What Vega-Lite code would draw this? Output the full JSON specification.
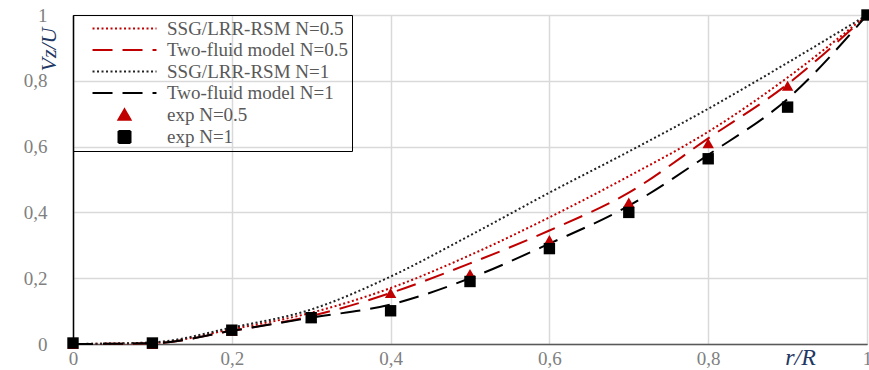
{
  "$schema": "https://vega.github.io/schema/vega-lite/v6.json",
  "width": 794,
  "height": 329,
  "autosize": {"type": "none"},
  "padding": {"left": 73, "top": 15, "right": 2, "bottom": 26},
  "background": "white",
  "config": {
    "view": {"stroke": "#000000", "strokeWidth": 1},
    "font": "Liberation Serif",
    "legend": {
      "orient": "none", "legendX": 0, "legendY": 0,
      "strokeColor": "#000000", "padding": 4,
      "labelFont": "Liberation Serif", "labelFontSize": 19, "labelColor": "#595959",
      "symbolSize": 144, "symbolStrokeWidth": 2, "symbolOffset": 38,
      "labelOffset": 33, "rowPadding": 1.5, "labelLimit": 400,
      "symbolFillColor": "#000000", "symbolOpacity": 1
    }
  },
  "data": {
    "values": [
      {"series": "SSG/LRR-RSM N=0.5", "r": 0.0, "v": 0.0},
      {"series": "SSG/LRR-RSM N=0.5", "r": 0.1, "v": 0.003},
      {"series": "SSG/LRR-RSM N=0.5", "r": 0.2, "v": 0.045},
      {"series": "SSG/LRR-RSM N=0.5", "r": 0.3, "v": 0.095},
      {"series": "SSG/LRR-RSM N=0.5", "r": 0.4, "v": 0.17},
      {"series": "SSG/LRR-RSM N=0.5", "r": 0.5, "v": 0.27},
      {"series": "SSG/LRR-RSM N=0.5", "r": 0.6, "v": 0.385},
      {"series": "SSG/LRR-RSM N=0.5", "r": 0.7, "v": 0.51},
      {"series": "SSG/LRR-RSM N=0.5", "r": 0.8, "v": 0.645},
      {"series": "SSG/LRR-RSM N=0.5", "r": 0.9, "v": 0.81},
      {"series": "SSG/LRR-RSM N=0.5", "r": 1.0, "v": 1.0},
      {"series": "Two-fluid model N=0.5", "r": 0.0, "v": 0.0},
      {"series": "Two-fluid model N=0.5", "r": 0.1, "v": 0.002},
      {"series": "Two-fluid model N=0.5", "r": 0.2, "v": 0.04},
      {"series": "Two-fluid model N=0.5", "r": 0.3, "v": 0.085},
      {"series": "Two-fluid model N=0.5", "r": 0.4, "v": 0.155},
      {"series": "Two-fluid model N=0.5", "r": 0.5, "v": 0.245},
      {"series": "Two-fluid model N=0.5", "r": 0.6, "v": 0.345},
      {"series": "Two-fluid model N=0.5", "r": 0.7, "v": 0.46},
      {"series": "Two-fluid model N=0.5", "r": 0.8, "v": 0.625},
      {"series": "Two-fluid model N=0.5", "r": 0.9, "v": 0.79},
      {"series": "Two-fluid model N=0.5", "r": 1.0, "v": 1.0},
      {"series": "SSG/LRR-RSM N=1", "r": 0.0, "v": 0.0},
      {"series": "SSG/LRR-RSM N=1", "r": 0.1, "v": 0.005},
      {"series": "SSG/LRR-RSM N=1", "r": 0.2, "v": 0.05},
      {"series": "SSG/LRR-RSM N=1", "r": 0.3, "v": 0.105},
      {"series": "SSG/LRR-RSM N=1", "r": 0.4, "v": 0.205},
      {"series": "SSG/LRR-RSM N=1", "r": 0.5, "v": 0.33},
      {"series": "SSG/LRR-RSM N=1", "r": 0.6, "v": 0.46},
      {"series": "SSG/LRR-RSM N=1", "r": 0.7, "v": 0.585},
      {"series": "SSG/LRR-RSM N=1", "r": 0.8, "v": 0.715},
      {"series": "SSG/LRR-RSM N=1", "r": 0.9, "v": 0.855},
      {"series": "SSG/LRR-RSM N=1", "r": 1.0, "v": 1.0},
      {"series": "Two-fluid model N=1", "r": 0.0, "v": 0.0},
      {"series": "Two-fluid model N=1", "r": 0.1, "v": 0.002},
      {"series": "Two-fluid model N=1", "r": 0.2, "v": 0.04},
      {"series": "Two-fluid model N=1", "r": 0.3, "v": 0.08},
      {"series": "Two-fluid model N=1", "r": 0.4, "v": 0.12},
      {"series": "Two-fluid model N=1", "r": 0.5, "v": 0.2},
      {"series": "Two-fluid model N=1", "r": 0.6, "v": 0.305},
      {"series": "Two-fluid model N=1", "r": 0.7, "v": 0.42},
      {"series": "Two-fluid model N=1", "r": 0.8, "v": 0.575},
      {"series": "Two-fluid model N=1", "r": 0.9, "v": 0.745},
      {"series": "Two-fluid model N=1", "r": 1.0, "v": 1.0},
      {"series": "exp N=0.5", "r": 0.0, "v": 0.0},
      {"series": "exp N=0.5", "r": 0.1, "v": 0.0},
      {"series": "exp N=0.5", "r": 0.2, "v": 0.04},
      {"series": "exp N=0.5", "r": 0.3, "v": 0.08},
      {"series": "exp N=0.5", "r": 0.4, "v": 0.155},
      {"series": "exp N=0.5", "r": 0.5, "v": 0.213},
      {"series": "exp N=0.5", "r": 0.6, "v": 0.316},
      {"series": "exp N=0.5", "r": 0.7, "v": 0.43},
      {"series": "exp N=0.5", "r": 0.8, "v": 0.61},
      {"series": "exp N=0.5", "r": 0.9, "v": 0.785},
      {"series": "exp N=0.5", "r": 1.0, "v": 1.0},
      {"series": "exp N=1", "r": 0.0, "v": 0.003},
      {"series": "exp N=1", "r": 0.1, "v": 0.003},
      {"series": "exp N=1", "r": 0.2, "v": 0.042},
      {"series": "exp N=1", "r": 0.3, "v": 0.08},
      {"series": "exp N=1", "r": 0.4, "v": 0.101},
      {"series": "exp N=1", "r": 0.5, "v": 0.19},
      {"series": "exp N=1", "r": 0.6, "v": 0.29},
      {"series": "exp N=1", "r": 0.7, "v": 0.40},
      {"series": "exp N=1", "r": 0.8, "v": 0.563},
      {"series": "exp N=1", "r": 0.9, "v": 0.72},
      {"series": "exp N=1", "r": 1.0, "v": 1.0}
    ]
  },
  "encoding": {
    "x": {
      "field": "r", "type": "quantitative",
      "scale": {"domain": [0, 1], "nice": false},
      "axis": {
        "values": [0, 0.2, 0.4, 0.6, 0.8, 1],
        "labelExpr": "replace(format(datum.value, '~g'), '.', ',')",
        "title": "r/R",
        "titleFont": "Liberation Serif", "titleFontStyle": "italic", "titleFontWeight": "normal",
        "titleFontSize": 24, "titleColor": "#1f3864",
        "titleX": 727, "titleY": 20, "titleAlign": "center", "titleBaseline": "alphabetic",
        "labelFont": "Liberation Serif", "labelFontSize": 19, "labelColor": "#808080",
        "labelPadding": 5, "ticks": false, "domainColor": "#595959", "domainWidth": 1.5,
        "grid": true, "gridColor": "#d9d9d9", "gridWidth": 1.5,
        "labelFlush": false, "labelOverlap": false
      }
    },
    "y": {
      "field": "v", "type": "quantitative",
      "scale": {"domain": [0, 1], "nice": false},
      "axis": {
        "values": [0, 0.2, 0.4, 0.6, 0.8, 1],
        "labelExpr": "replace(format(datum.value, '~g'), '.', ',')",
        "title": "Vz/U",
        "titleFont": "Liberation Serif", "titleFontStyle": "italic", "titleFontWeight": "normal",
        "titleFontSize": 22, "titleColor": "#1f3864",
        "titleX": -25, "titleY": 12, "titleAngle": 270, "titleAlign": "right", "titleBaseline": "middle",
        "labelFont": "Liberation Serif", "labelFontSize": 19, "labelColor": "#808080",
        "labelPadding": 26, "ticks": false, "domainColor": "#000000", "domainWidth": 1.5,
        "grid": true, "gridColor": "#d9d9d9", "gridWidth": 1.5,
        "labelFlush": false, "labelOverlap": false
      }
    }
  },
  "layer": [
    {
      "transform": [{"filter": "indexof(datum.series, 'exp') != 0"}],
      "mark": {"type": "line", "interpolate": "monotone", "strokeWidth": 2},
      "encoding": {
        "color": {
          "field": "series", "type": "nominal",
          "scale": {
            "domain": ["SSG/LRR-RSM N=0.5", "Two-fluid model N=0.5", "SSG/LRR-RSM N=1", "Two-fluid model N=1", "exp N=0.5", "exp N=1"],
            "range": ["#c00000", "#c00000", "#222222", "#000000", "#c00000", "#000000"]
          },
          "legend": {"title": null, "labelExpr": "datum.label + '         '"}
        },
        "strokeDash": {
          "field": "series", "type": "nominal",
          "scale": {
            "domain": ["SSG/LRR-RSM N=0.5", "Two-fluid model N=0.5", "SSG/LRR-RSM N=1", "Two-fluid model N=1", "exp N=0.5", "exp N=1"],
            "range": [[2, 2.5], [20, 10], [2, 2.5], [20, 10], [1, 0], [1, 0]]
          },
          "legend": {"title": null}
        }
      }
    },
    {
      "transform": [{"filter": "indexof(datum.series, 'exp') == 0"}],
      "mark": {"type": "point", "filled": true, "opacity": 1, "size": 130},
      "encoding": {
        "color": {
          "field": "series", "type": "nominal",
          "scale": {
            "domain": ["SSG/LRR-RSM N=0.5", "Two-fluid model N=0.5", "SSG/LRR-RSM N=1", "Two-fluid model N=1", "exp N=0.5", "exp N=1"],
            "range": ["#c00000", "#c00000", "#222222", "#000000", "#c00000", "#000000"]
          },
          "legend": {"title": null}
        },
        "shape": {
          "field": "series", "type": "nominal",
          "scale": {
            "domain": ["SSG/LRR-RSM N=0.5", "Two-fluid model N=0.5", "SSG/LRR-RSM N=1", "Two-fluid model N=1", "exp N=0.5", "exp N=1"],
            "range": ["M-5.33,0H5.33", "M-5.33,0H5.33", "M-5.33,0H5.33", "M-5.33,0H5.33", "triangle-up", "square"]
          },
          "legend": {"title": null}
        }
      }
    }
  ]
}
